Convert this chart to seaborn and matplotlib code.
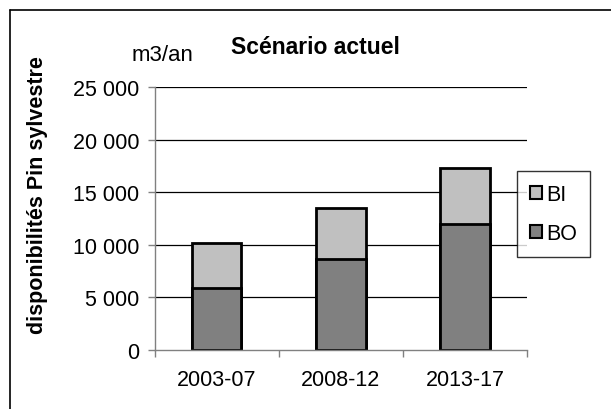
import pandas as pd
import seaborn as sns
import matplotlib.pyplot as plt
from matplotlib.lines import Line2D
from matplotlib.patches import Patch

periods = ["2003-07", "2008-12", "2013-17"]
bo_values = [5850, 8700, 12000]
bi_values = [4350, 4800, 5300]
y_ticks = [0, 5000, 10000, 15000, 20000, 25000]
y_labels = ["0", "5 000", "10 000", "15 000", "20 000", "25 000"]

df = pd.DataFrame({"periode": periods, "BO": bo_values, "BI": bi_values})
df["total"] = df["BO"] + df["BI"]

sns.set_style("white")
plt.rcParams["font.family"] = ["Liberation Sans", "DejaVu Sans"]
plt.rcParams["text.color"] = "black"
plt.rcParams["xtick.labelcolor"] = "black"
plt.rcParams["ytick.labelcolor"] = "black"

fig = plt.figure(figsize=(6.11, 4.10), dpi=100)
ax = fig.add_axes([0.253, 0.144, 0.6095, 0.641])

# stacked bars: total (BI on top) first, then BO over it
sns.barplot(ax=ax, data=df, x="periode", y="total", color="#C0C0C0",
            saturation=1, width=0.4, edgecolor="black", linewidth=2)
sns.barplot(ax=ax, data=df, x="periode", y="BO", color="#808080",
            saturation=1, width=0.4, edgecolor="black", linewidth=2)

ax.set_xlim(-0.5, 2.5)
ax.set_ylim(0, 25000)
ax.set_yticks(y_ticks)
ax.set_yticklabels(y_labels, fontsize=15.5, color="black")
ax.set_xticks(range(len(periods)))
ax.set_xticklabels(periods, fontsize=15.5, color="black")
ax.set_xticks([-0.5, 0.5, 1.5, 2.5], minor=True)
ax.tick_params(axis="x", which="major", length=0, pad=14)
ax.tick_params(axis="x", which="minor", length=5, width=1, color="#808080",
               direction="out", bottom=True)
ax.tick_params(axis="y", length=5, width=1, color="#808080", left=True,
               direction="out", pad=6)

for y in y_ticks[1:]:
    ax.axhline(y, color="black", linewidth=0.9, zorder=0)
ax.set_axisbelow(True)

for s in ["top", "right"]:
    ax.spines[s].set_visible(False)
for s in ["left", "bottom"]:
    ax.spines[s].set_color("#808080")
    ax.spines[s].set_linewidth(1)

ax.set_xlabel("")
ax.set_ylabel("")

fig.text(0.517, 0.884, "Scénario actuel", fontsize=16.5, fontweight="bold",
         ha="center", va="center", color="black")
fig.text(0.266, 0.864, "m3/an", fontsize=16, ha="center", va="center",
         color="black")
fig.text(0.062, 0.525, "disponibilités Pin sylvestre", fontsize=15.5,
         fontweight="bold", rotation=90, ha="center", va="center",
         color="black")

handles = [Patch(facecolor="#C0C0C0", edgecolor="black", linewidth=1.5),
           Patch(facecolor="#808080", edgecolor="black", linewidth=1.5)]
leg = fig.legend(handles, ["BI", "BO"], loc="upper left",
                 bbox_to_anchor=(0.846, 0.58), frameon=True, fancybox=False,
                 fontsize=15.5, handlelength=0.55, handleheight=0.55,
                 handletextpad=0.2, labelspacing=0.85, borderpad=0.6,
                 borderaxespad=0)
leg.get_frame().set_edgecolor("black")
leg.get_frame().set_linewidth(1)
for t in leg.get_texts():
    t.set_color("black")

# outer chart border (only left and top visible)
fig.add_artist(Line2D([0.0165, 0.0165], [0.0, 0.973], color="black",
                      linewidth=1.2, transform=fig.transFigure))
fig.add_artist(Line2D([0.0165, 1.0], [0.973, 0.973], color="black",
                      linewidth=1.2, transform=fig.transFigure))

fig.savefig("out.png", dpi=100)
